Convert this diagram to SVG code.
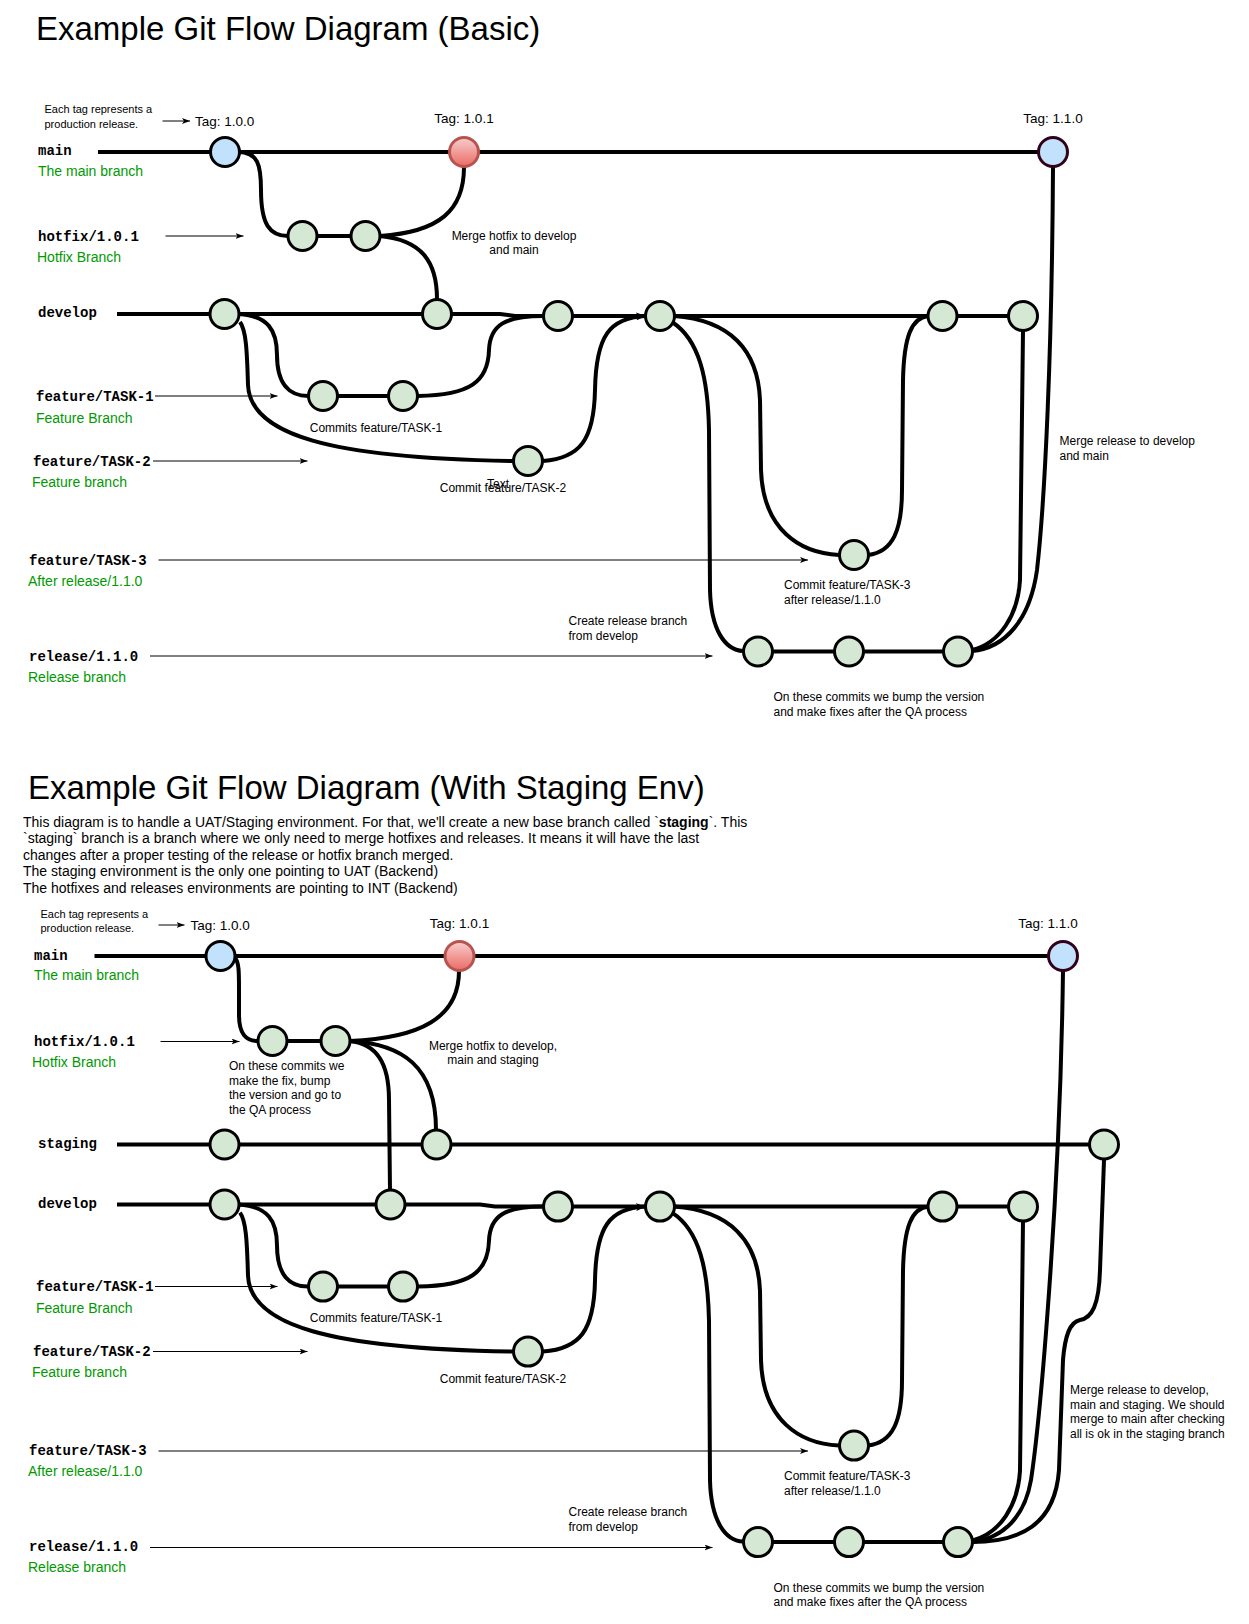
<svg xmlns="http://www.w3.org/2000/svg" width="1249" height="1624" viewBox="0 0 1249 1624">
<defs>
<style>
text{font-family:"Liberation Sans",Arial,Helvetica,sans-serif;fill:#000}
.title{font-size:33px}
.para{font-size:14px}
.sm{font-size:11px}
.note{font-size:12px}
.tag{font-size:13.5px}
.mono{font-family:"Liberation Mono","Courier New",monospace;font-weight:bold;font-size:14px}
.green{font-size:14px;fill:#009900}
.edge{fill:none;stroke:#000;stroke-width:4}
.thin{fill:none;stroke:#000;stroke-width:1;marker-end:url(#arr)}
.commit{fill:#d5e8d4;stroke:#000;stroke-width:3}
.tagblue{fill:#c1e1fc;stroke:#000;stroke-width:3}
.tagblue2{fill:#c1e1fc;stroke:#33001a;stroke-width:3}
.tagred{fill:url(#redg);stroke:#b85450;stroke-width:3}
</style>
<marker id="arr" markerWidth="8" markerHeight="6" refX="8" refY="3" orient="auto" markerUnits="userSpaceOnUse"><path d="M0,0 L8,3 L0,6 L2,3 Z" fill="#000"/></marker>
<marker id="arrT" markerWidth="10" markerHeight="8" refX="9" refY="4" orient="auto" markerUnits="userSpaceOnUse"><path d="M0,0 L10,4 L0,8 L2.5,4 Z" fill="#000"/></marker>
<linearGradient id="redg" x1="0" y1="0" x2="0" y2="1"><stop offset="0" stop-color="#f8cecc"/><stop offset="1" stop-color="#ea6b66"/></linearGradient>
</defs>
<rect width="1249" height="1624" fill="#fff"/>

<!-- ============ TOP DIAGRAM TEXTS ============ -->
<g id="top-texts">
<text class="title" x="36" y="40">Example Git Flow Diagram (Basic)</text>
<text class="sm" x="44.5" y="113">Each tag represents a</text>
<text class="sm" x="44.5" y="127.5">production release.</text>
<text class="tag" x="195" y="126">Tag: 1.0.0</text>
<text class="tag" x="464" y="122.5" text-anchor="middle">Tag: 1.0.1</text>
<text class="tag" x="1053" y="122.5" text-anchor="middle">Tag: 1.1.0</text>
<text class="mono" x="38" y="155">main</text>
<text class="green" x="38" y="176">The main branch</text>
<text class="mono" x="38" y="241">hotfix/1.0.1</text>
<text class="green" x="37" y="262">Hotfix Branch</text>
<text class="mono" x="38" y="317">develop</text>
<text class="mono" x="36" y="401">feature/TASK-1</text>
<text class="green" x="36" y="423">Feature Branch</text>
<text class="mono" x="33" y="466">feature/TASK-2</text>
<text class="green" x="32" y="487">Feature branch</text>
<text class="mono" x="29" y="564.5">feature/TASK-3</text>
<text class="green" x="28" y="585.5">After release/1.1.0</text>
<text class="mono" x="29" y="660.5">release/1.1.0</text>
<text class="green" x="28" y="681.5">Release branch</text>
<text class="note" x="514" y="240" text-anchor="middle">Merge hotfix to develop</text>
<text class="note" x="514" y="254" text-anchor="middle">and main</text>
<text class="note" x="376" y="432" text-anchor="middle">Commits feature/TASK-1</text>
<text class="note" x="503" y="492" text-anchor="middle">Commit feature/TASK-2</text>
<text class="note" x="498" y="487.5" text-anchor="middle">Text</text>
<text class="note" x="784" y="589">Commit feature/TASK-3</text>
<text class="note" x="784" y="604">after release/1.1.0</text>
<text class="note" x="568.5" y="625">Create release branch</text>
<text class="note" x="568.5" y="639.5">from develop</text>
<text class="note" x="773.5" y="701">On these commits we bump the version</text>
<text class="note" x="773.5" y="715.5">and make fixes after the QA process</text>
<text class="note" x="1059.5" y="445">Merge release to develop</text>
<text class="note" x="1059.5" y="459.5">and main</text>
</g>

<!-- ============ TOP CONNECTORS ============ -->
<g id="top-connectors">
<line class="thin" x1="162.5" y1="121" x2="190" y2="121"/>
<line class="thin" x1="165.5" y1="236" x2="243.5" y2="236"/>
<line class="thin" x1="155" y1="396" x2="277.5" y2="396"/>
<line class="thin" x1="153" y1="461" x2="307.5" y2="461"/>
<line class="thin" x1="158.5" y1="560" x2="808" y2="560"/>
<line class="thin" x1="150" y1="656" x2="712.5" y2="656"/>
<path class="edge" d="M98,152 L1053,152"/>
<path class="edge" d="M117,314 L500,314 L515,316 L1023,316"/>
<path class="edge" d="M238,152 C258,152 261,165 261,190 C261,225 270,236 288,236"/>
<path class="edge" d="M302,236 L365,236"/>
<path class="edge" d="M380,236 C440,232 464,210 464,167"/>
<path class="edge" d="M380,236 C422,240 437,262 437,299"/>
<g id="dev-lower-top">
<path class="edge" d="M239,314 C268,316 277,330 277,355 C277,385 290,396 308,396"/>
<path class="edge" d="M323,396 L403,396"/>
<path class="edge" d="M418,396 C470,395 488,382 489,350 C490,325 505,316 543,316"/>
<path class="edge" d="M240,322 C246,330 247,350 248,385 C250,435 330,458 513,461"/>
<path class="edge" d="M543,461 C580,458 594,440 595,390 C596,335 610,318 645,316" marker-end="url(#arrT)"/>
<path class="edge" d="M674,316 C730,320 758,350 760,400 L761,470 C763,530 800,553 839,555"/>
<path class="edge" d="M868,555 C893,552 902,530 902,490 L903,380 C904,335 912,318 928,316"/>
<path class="edge" d="M672,322 C700,340 708,380 709,430 L710,590 C711,630 725,650 743,651"/>
<path class="edge" d="M758,651.5 L958,651.5"/>
<path class="edge" d="M972,650 C1000,643 1018,615 1020,580 L1023,331"/>
</g>
<path class="edge" d="M972,651 C1005,648 1030,620 1037,570 C1045,500 1052,350 1053,167"/>
</g>

<!-- ============ TOP NODES ============ -->
<g id="t-main-1"><circle class="tagblue" cx="225" cy="152" r="14.5"/></g>
<g id="t-main-2"><circle class="tagred" cx="464" cy="152" r="14.5"/></g>
<g id="t-main-3"><circle class="tagblue2" cx="1053" cy="152" r="14.5"/></g>
<g id="t-hotfix-1"><circle class="commit" cx="302.5" cy="236" r="14.5"/></g>
<g id="t-hotfix-2"><circle class="commit" cx="365.5" cy="236" r="14.5"/></g>
<g id="t-dev-1"><circle class="commit" cx="224.5" cy="314" r="14.5"/></g>
<g id="t-dev-2"><circle class="commit" cx="437" cy="314" r="14.5"/></g>
<g id="t-dev-3"><circle class="commit" cx="558" cy="316" r="14.5"/></g>
<g id="t-dev-4"><circle class="commit" cx="660" cy="316" r="14.5"/></g>
<g id="t-dev-5"><circle class="commit" cx="942.5" cy="316" r="14.5"/></g>
<g id="t-dev-6"><circle class="commit" cx="1023" cy="316" r="14.5"/></g>
<g id="t-f1-1"><circle class="commit" cx="323" cy="396" r="14.5"/></g>
<g id="t-f1-2"><circle class="commit" cx="403" cy="396" r="14.5"/></g>
<g id="t-f2-1"><circle class="commit" cx="528" cy="461" r="14.5"/></g>
<g id="t-f3-1"><circle class="commit" cx="854" cy="555" r="14.5"/></g>
<g id="t-rel-1"><circle class="commit" cx="758" cy="651.5" r="14.5"/></g>
<g id="t-rel-2"><circle class="commit" cx="849" cy="651.5" r="14.5"/></g>
<g id="t-rel-3"><circle class="commit" cx="958" cy="651.5" r="14.5"/></g>

<!-- ============ BOTTOM DIAGRAM TEXTS ============ -->
<g id="bottom-texts">
<text class="title" x="28" y="799">Example Git Flow Diagram (With Staging Env)</text>
<text class="para" x="23" y="826.5">This diagram is to handle a UAT/Staging environment. For that, we'll create a new base branch called `<tspan font-weight="bold">staging</tspan>`. This</text>
<text class="para" x="23" y="843">`staging` branch is a branch where we only need to merge hotfixes and releases. It means it will have the last</text>
<text class="para" x="23" y="859.5">changes after a proper testing of the release or hotfix branch merged.</text>
<text class="para" x="23" y="876">The staging environment is the only one pointing to UAT (Backend)</text>
<text class="para" x="23" y="892.5">The hotfixes and releases environments are pointing to INT (Backend)</text>
<text class="sm" x="40.5" y="918">Each tag represents a</text>
<text class="sm" x="40.5" y="932">production release.</text>
<text class="tag" x="190.5" y="930">Tag: 1.0.0</text>
<text class="tag" x="459.5" y="927.5" text-anchor="middle">Tag: 1.0.1</text>
<text class="tag" x="1048" y="927.5" text-anchor="middle">Tag: 1.1.0</text>
<text class="mono" x="34" y="959.5">main</text>
<text class="green" x="34" y="980">The main branch</text>
<text class="mono" x="34" y="1045.5">hotfix/1.0.1</text>
<text class="green" x="32" y="1066.5">Hotfix Branch</text>
<text class="mono" x="38" y="1148">staging</text>
<text class="mono" x="38" y="1208">develop</text>
<text class="mono" x="36" y="1291">feature/TASK-1</text>
<text class="green" x="36" y="1313">Feature Branch</text>
<text class="mono" x="33" y="1355.5">feature/TASK-2</text>
<text class="green" x="32" y="1377">Feature branch</text>
<text class="mono" x="29" y="1455">feature/TASK-3</text>
<text class="green" x="28" y="1476">After release/1.1.0</text>
<text class="mono" x="29" y="1551">release/1.1.0</text>
<text class="green" x="28" y="1572">Release branch</text>
<text class="note" x="229" y="1070">On these commits we</text>
<text class="note" x="229" y="1084.5">make the fix, bump</text>
<text class="note" x="229" y="1099">the version and go to</text>
<text class="note" x="229" y="1113.5">the QA process</text>
<text class="note" x="493" y="1049.5" text-anchor="middle">Merge hotfix to develop,</text>
<text class="note" x="493" y="1064" text-anchor="middle">main and staging</text>
<text class="note" x="376" y="1322" text-anchor="middle">Commits feature/TASK-1</text>
<text class="note" x="503" y="1382.5" text-anchor="middle">Commit feature/TASK-2</text>
<text class="note" x="784" y="1480">Commit feature/TASK-3</text>
<text class="note" x="784" y="1494.5">after release/1.1.0</text>
<text class="note" x="568.5" y="1516">Create release branch</text>
<text class="note" x="568.5" y="1530.5">from develop</text>
<text class="note" x="773.5" y="1592">On these commits we bump the version</text>
<text class="note" x="773.5" y="1606">and make fixes after the QA process</text>
<text class="note" x="1070" y="1394">Merge release to develop,</text>
<text class="note" x="1070" y="1408.5">main and staging. We should</text>
<text class="note" x="1070" y="1423">merge to main after checking</text>
<text class="note" x="1070" y="1437.5">all is ok in the staging branch</text>
</g>

<!-- ============ BOTTOM CONNECTORS ============ -->
<g id="bottom-connectors">
<line class="thin" x1="158.5" y1="925" x2="184.5" y2="925"/>
<line class="thin" x1="160.5" y1="1041.5" x2="239.5" y2="1041.5"/>
<line class="thin" x1="155" y1="1286.5" x2="277.5" y2="1286.5"/>
<line class="thin" x1="153" y1="1351.5" x2="307.5" y2="1351.5"/>
<line class="thin" x1="158.5" y1="1451" x2="808" y2="1451"/>
<line class="thin" x1="150" y1="1547.5" x2="712.5" y2="1547.5"/>
<path class="edge" d="M94.5,956 L1063,956"/>
<path class="edge" d="M117,1144.5 L1104,1144.5"/>
<path class="edge" d="M117,1204.5 L480,1204.5 L495,1206.6 L1023,1206.6"/>
<path class="edge" d="M235,958 C239,962 239,972 239,990 L239,1015 C239,1034 246,1041 258,1041"/>
<path class="edge" d="M272,1041 L335,1041"/>
<path class="edge" d="M350,1041 C420,1038 459,1018 459,971"/>
<path class="edge" d="M350,1041 C376,1044 389,1062 389,1100 L390,1190"/>
<path class="edge" d="M350,1041 C402,1044 436,1066 436,1130"/>
<g transform="translate(0,890.6)">
<path class="edge" d="M239,314 C268,316 277,330 277,355 C277,385 290,396 308,396"/>
<path class="edge" d="M323,396 L403,396"/>
<path class="edge" d="M418,396 C470,395 488,382 489,350 C490,325 505,316 543,316"/>
<path class="edge" d="M240,322 C246,330 247,350 248,385 C250,435 330,458 513,461"/>
<path class="edge" d="M543,461 C580,458 594,440 595,390 C596,335 610,318 645,316" marker-end="url(#arrT)"/>
<path class="edge" d="M674,316 C730,320 758,350 760,400 L761,470 C763,530 800,553 839,555"/>
<path class="edge" d="M868,555 C893,552 902,530 902,490 L903,380 C904,335 912,318 928,316"/>
<path class="edge" d="M672,322 C700,340 708,380 709,430 L710,590 C711,630 725,650 743,651"/>
<path class="edge" d="M758,651.5 L958,651.5"/>
<path class="edge" d="M972,650 C1000,643 1018,615 1020,580 L1023,331"/>
</g>
<path class="edge" d="M972,1542 C1005,1538 1025,1515 1031,1480 C1040,1420 1060,1200 1063,971"/>
<path class="edge" d="M972,1542 C1020,1542 1055,1525 1059,1470 L1063,1360 C1065,1335 1070,1322 1080,1320 C1092,1318 1099,1305 1100,1270 L1104,1160"/>
</g>

<!-- ============ BOTTOM NODES ============ -->
<g id="b-main-1"><circle class="tagblue" cx="220.5" cy="956" r="14.5"/></g>
<g id="b-main-2"><circle class="tagred" cx="459.5" cy="956" r="14.5"/></g>
<g id="b-main-3"><circle class="tagblue2" cx="1063" cy="956" r="14.5"/></g>
<g id="b-hotfix-1"><circle class="commit" cx="272.5" cy="1041" r="14.5"/></g>
<g id="b-hotfix-2"><circle class="commit" cx="335.5" cy="1041" r="14.5"/></g>
<g id="b-stg-1"><circle class="commit" cx="224.5" cy="1144.5" r="14.5"/></g>
<g id="b-stg-2"><circle class="commit" cx="436.5" cy="1144.5" r="14.5"/></g>
<g id="b-stg-3"><circle class="commit" cx="1104" cy="1144.5" r="14.5"/></g>
<g id="b-dev-1"><circle class="commit" cx="224.5" cy="1204.5" r="14.5"/></g>
<g id="b-dev-2"><circle class="commit" cx="390.5" cy="1204.5" r="14.5"/></g>
<g id="b-dev-3"><circle class="commit" cx="558" cy="1206.6" r="14.5"/></g>
<g id="b-dev-4"><circle class="commit" cx="660" cy="1206.6" r="14.5"/></g>
<g id="b-dev-5"><circle class="commit" cx="942.5" cy="1206.6" r="14.5"/></g>
<g id="b-dev-6"><circle class="commit" cx="1023" cy="1206.6" r="14.5"/></g>
<g id="b-f1-1"><circle class="commit" cx="323" cy="1286.6" r="14.5"/></g>
<g id="b-f1-2"><circle class="commit" cx="403" cy="1286.6" r="14.5"/></g>
<g id="b-f2-1"><circle class="commit" cx="528" cy="1351.6" r="14.5"/></g>
<g id="b-f3-1"><circle class="commit" cx="854" cy="1445.6" r="14.5"/></g>
<g id="b-rel-1"><circle class="commit" cx="758" cy="1542.1" r="14.5"/></g>
<g id="b-rel-2"><circle class="commit" cx="849" cy="1542.1" r="14.5"/></g>
<g id="b-rel-3"><circle class="commit" cx="958" cy="1542.1" r="14.5"/></g>
</svg>
